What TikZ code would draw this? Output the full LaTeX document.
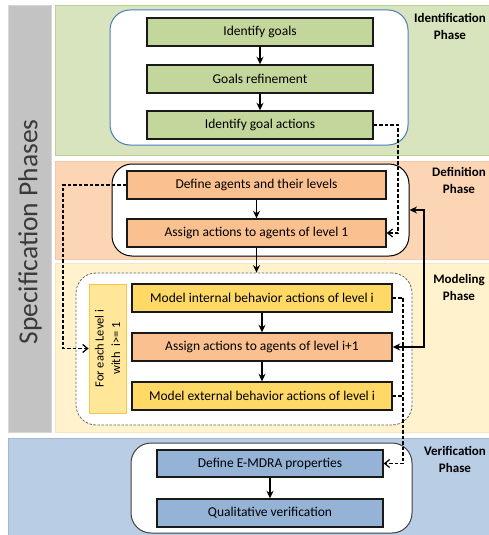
\documentclass[tikz,border=0pt]{standalone}
\usepackage{fontspec}
\setmainfont{Carlito}
\usetikzlibrary{arrows.meta}

% phase colours
\definecolor{bandgreen}{HTML}{D7E4BD}
\definecolor{edgegreen}{HTML}{BCCF98}
\definecolor{boxgreen}{HTML}{C3D69B}
\definecolor{bandorange}{HTML}{FCD5B5}
\definecolor{edgeorange}{HTML}{F2C9A6}
\definecolor{boxorange}{HTML}{FAC090}
\definecolor{bandyellow}{HTML}{FFF2CC}
\definecolor{edgeyellow}{HTML}{F5E6BD}
\definecolor{boxyellow}{HTML}{FFD966}
\definecolor{loopfill}{HTML}{FFE699}
\definecolor{loopedge}{HTML}{F4C64A}
\definecolor{bandblue}{HTML}{B9CDE5}
\definecolor{edgeblue}{HTML}{A5B8CF}
\definecolor{boxblue}{HTML}{95B3D7}
\definecolor{bandgray}{HTML}{C3C3C3}
\definecolor{edgegray}{HTML}{D6D6D6}
\definecolor{framblue}{HTML}{4A7EBB}
\definecolor{titlegray}{HTML}{3A3A3A}

\tikzset{
  stepbox/.style={draw=black!90, line width=1.4pt, rectangle, minimum height=28,
    inner sep=0pt, font=\fontsize{13.5}{16}\selectfont},
  frame/.style={rectangle, rounded corners=20, fill=white, line width=1pt, inner sep=0pt},
  phaselabel/.style={align=center, font=\fontsize{13}{17}\selectfont\bfseries, text=black},
  solidarrow/.style={line width=1.6pt, -{Stealth[length=7.5pt,width=7pt]}},
  solidboth/.style={line width=1.6pt, {Stealth[length=7.5pt,width=7pt]}-{Stealth[length=7.5pt,width=7pt]}},
  dashline/.style={line width=1.2pt, dash pattern=on 3.5pt off 2pt},
  dasharrow/.style={dashline, -{Straight Barb[length=5pt,width=8pt]}},
}

\begin{document}
\begin{tikzpicture}[x=1pt, y=-1pt]
\useasboundingbox (0,0) rectangle (489,535);

% background bands
\filldraw[fill=bandgray, draw=edgegray, line width=0.8pt] (8,5) rectangle (51,432);
\filldraw[fill=bandgreen, draw=edgegreen, line width=0.8pt] (55,5) rectangle (495,155);
\filldraw[fill=bandorange, draw=edgeorange, line width=0.8pt] (55,161) rectangle (495,259);
\filldraw[fill=bandyellow, draw=edgeyellow, line width=0.8pt] (55,263) rectangle (495,432);
\filldraw[fill=bandblue, draw=edgeblue, line width=0.8pt] (8,438) rectangle (495,540);

% side title
\node[rotate=90, font=\fontsize{27.5}{30}\selectfont, text=titlegray] (title) at (30,232) {Specification Phases};

% phase labels
\node[phaselabel] (lid) at (450,26) {Identification\\Phase};
\node[phaselabel] (ldef) at (459,180) {Definition\\Phase};
\node[phaselabel] (lmod) at (459,287) {Modeling\\Phase};
\node[phaselabel] (lver) at (455,459) {Verification\\Phase};

% phase frames
\node[frame, draw=framblue, minimum width=298, minimum height=135] (c1) at (259,77.5) {};
\node[frame, draw=black, minimum width=297, minimum height=92] (c2) at (260.5,210) {};
\node[frame, draw=gray!80!black, line width=0.8pt, dash pattern=on 2.5pt off 1.5pt,
      minimum width=336, minimum height=152] (c3) at (244,349) {};
\node[frame, draw=black!75, minimum width=281, minimum height=90] (c4) at (271.5,488) {};

% identification steps
\node[stepbox, fill=boxgreen, minimum width=226] (g1) at (260,32) {Identify goals};
\node[stepbox, fill=boxgreen, minimum width=226] (g2) at (260,79) {Goals refinement};
\node[stepbox, fill=boxgreen, minimum width=226] (g3) at (260,125) {Identify goal actions};

% definition steps
\node[stepbox, fill=boxorange, minimum width=259] (d1) at (256.5,185) {Define agents and their levels};
\node[stepbox, fill=boxorange, minimum width=259] (d2) at (256.5,233) {Assign actions to agents of level 1};

% modeling steps
\node[rectangle, draw=loopedge, fill=loopfill, line width=0.8pt, minimum width=37, minimum height=129,
      inner sep=0pt] (fe) at (107.5,348.5) {};
\node[rotate=90, align=center, font=\fontsize{12.5}{16.5}\selectfont] (fetext) at (fe.center) {For each Level i\\with\ \ i>= 1};
\node[stepbox, fill=boxyellow, minimum width=260] (m1) at (262,298) {Model internal behavior actions of level i};
\node[stepbox, fill=boxorange, minimum width=260] (m2) at (262,347) {Assign actions to agents of level i+1};
\node[stepbox, fill=boxyellow, minimum width=260] (m3) at (262,396) {Model external behavior actions of level i};

% verification steps
\node[stepbox, fill=boxblue, minimum width=226, minimum height=27] (v1) at (270,463.5) {Define E-MDRA properties};
\node[stepbox, fill=boxblue, minimum width=226] (v2) at (270,513) {Qualitative verification};

% flow inside the phases
\draw[solidarrow] (g1) -- (g2);
\draw[solidarrow] (g2) -- (g3);
\draw[solidarrow] (d1) -- (d2);
\draw[solidarrow] (d2.south) -- (d2.south |- c3.north);
\draw[solidarrow] (m1) -- (m2);
\draw[solidarrow] (m2) -- (m3);
\draw[solidarrow] (v1) -- (v2);

% links between phases
\coordinate (jA) at (398,0);
\coordinate (jB) at (63,0);
\coordinate (jC) at (403,0);
\coordinate (jD) at (424,210);

\draw[dasharrow] (g3.east) -- (g3.east -| jA) |- (d2.east);
\draw[dasharrow] (d1.west) -- (d1.west -| jB) |- (fe.west);
\draw[dashline] (m1.east) -- (m1.east -| jC);
\draw[dashline] (m3.east) -- (m3.east -| jC);
\draw[dasharrow] (m1.east -| jC) |- (v1.east);
\draw[solidboth] (c2.east |- jD) -- (jD) |- (m2.east);

\end{tikzpicture}
\end{document}
